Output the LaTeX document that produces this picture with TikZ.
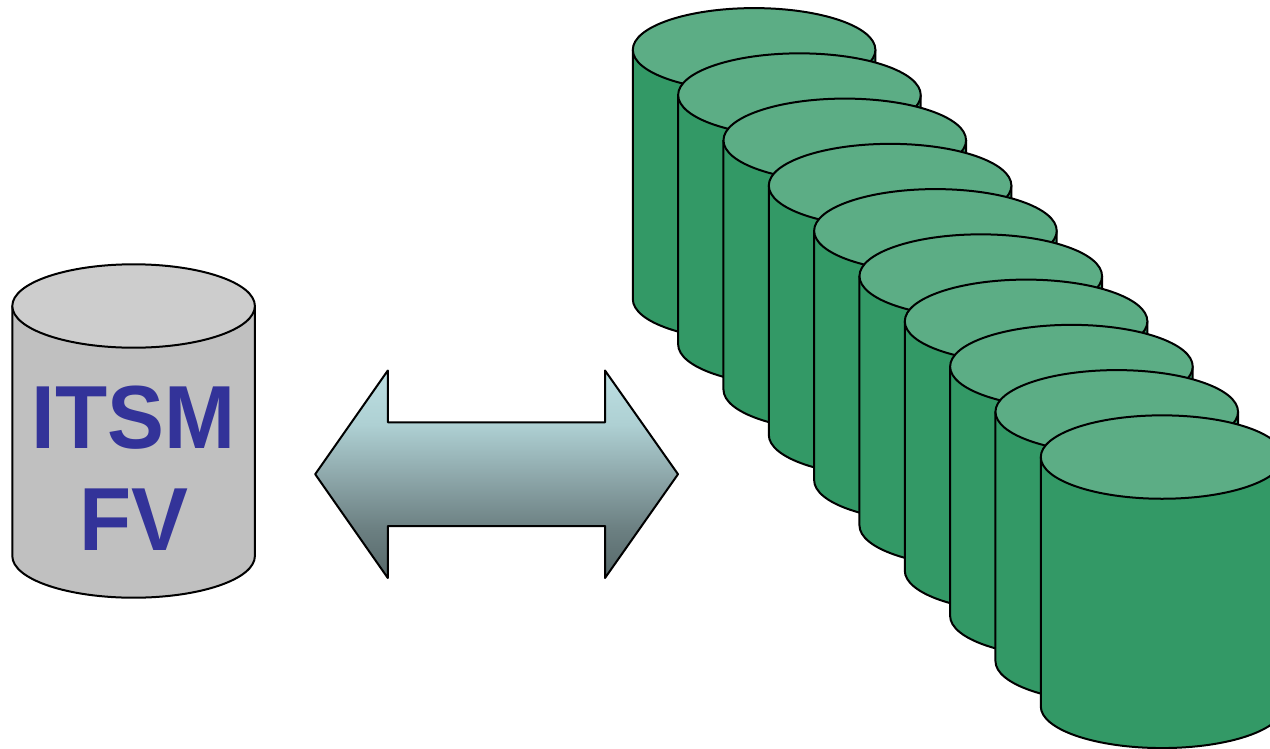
\documentclass[tikz,border=0pt]{standalone}
\usepackage{fontspec}
\setmainfont{Liberation Sans}
\definecolor{greenbody}{HTML}{339966}
\definecolor{greentop}{HTML}{5CAD85}
\definecolor{graybody}{HTML}{C0C0C0}
\definecolor{graytop}{HTML}{CDCDCD}
\definecolor{itsmblue}{HTML}{333399}
\definecolor{arrowtop}{HTML}{BDE0E3}
\definecolor{arrowup}{HTML}{AED0D3}
\definecolor{arrowmid}{HTML}{8FA9AC}
\definecolor{arrowlow}{HTML}{6C8082}
\definecolor{arrowbot}{HTML}{566869}
\pgfdeclareverticalshading{arrowshade}{100bp}{
  color(0bp)=(arrowbot);
  color(25bp)=(arrowbot);
  color(37bp)=(arrowlow);
  color(50bp)=(arrowmid);
  color(62bp)=(arrowup);
  color(75bp)=(arrowtop);
  color(100bp)=(arrowtop)}
\tikzset{
  outline/.style={draw=black,line width=1.5pt,line join=round},
  label text/.style={font=\bfseries\fontsize{64}{64}\selectfont,text=itsmblue,inner sep=0pt,anchor=base,yscale=1.05,transform shape},
}
% #1 left x, #2 top-ellipse centre y, #3 body height, #4 body colour, #5 top colour
\newcommand{\drumshape}[5]{%
  \path[outline,fill=#4] (#1,#2) -- ++(0,#3) arc[start angle=180,end angle=0,x radius=121.3,y radius=41.7] -- ++(0,-#3) -- cycle;
  \path[outline,fill=#5] (#1+121.3,#2) ellipse[x radius=121.3,y radius=41.7];
}
\begin{document}
\begin{tikzpicture}[x=0.75pt,y=-0.75pt]
\useasboundingbox (0,0) rectangle (1270,749);
\clip (0,0) rectangle (1270,749);
\foreach \i in {0,...,9}{
  \pgfmathsetmacro{\dx}{632.8+45.33*\i}
  \pgfmathsetmacro{\dy}{49.8+45.25*\i}
  \drumshape{\dx}{\dy}{249.3}{greenbody}{greentop}
}
\drumshape{12.3}{306}{250}{graybody}{graytop}
\node[label text] (itsm) at (133.6,448) {ITSM};
\node[label text] (fv) at (133.6,550) {FV};
\path[outline,shading=arrowshade]
  (315.2,474.2) -- (387.8,370.5) -- (387.8,422.3) -- (605,422.3) -- (605,370.5)
  -- (678,474.2) -- (605,578) -- (605,526) -- (387.8,526) -- (387.8,578) -- cycle;
\end{tikzpicture}
\end{document}
